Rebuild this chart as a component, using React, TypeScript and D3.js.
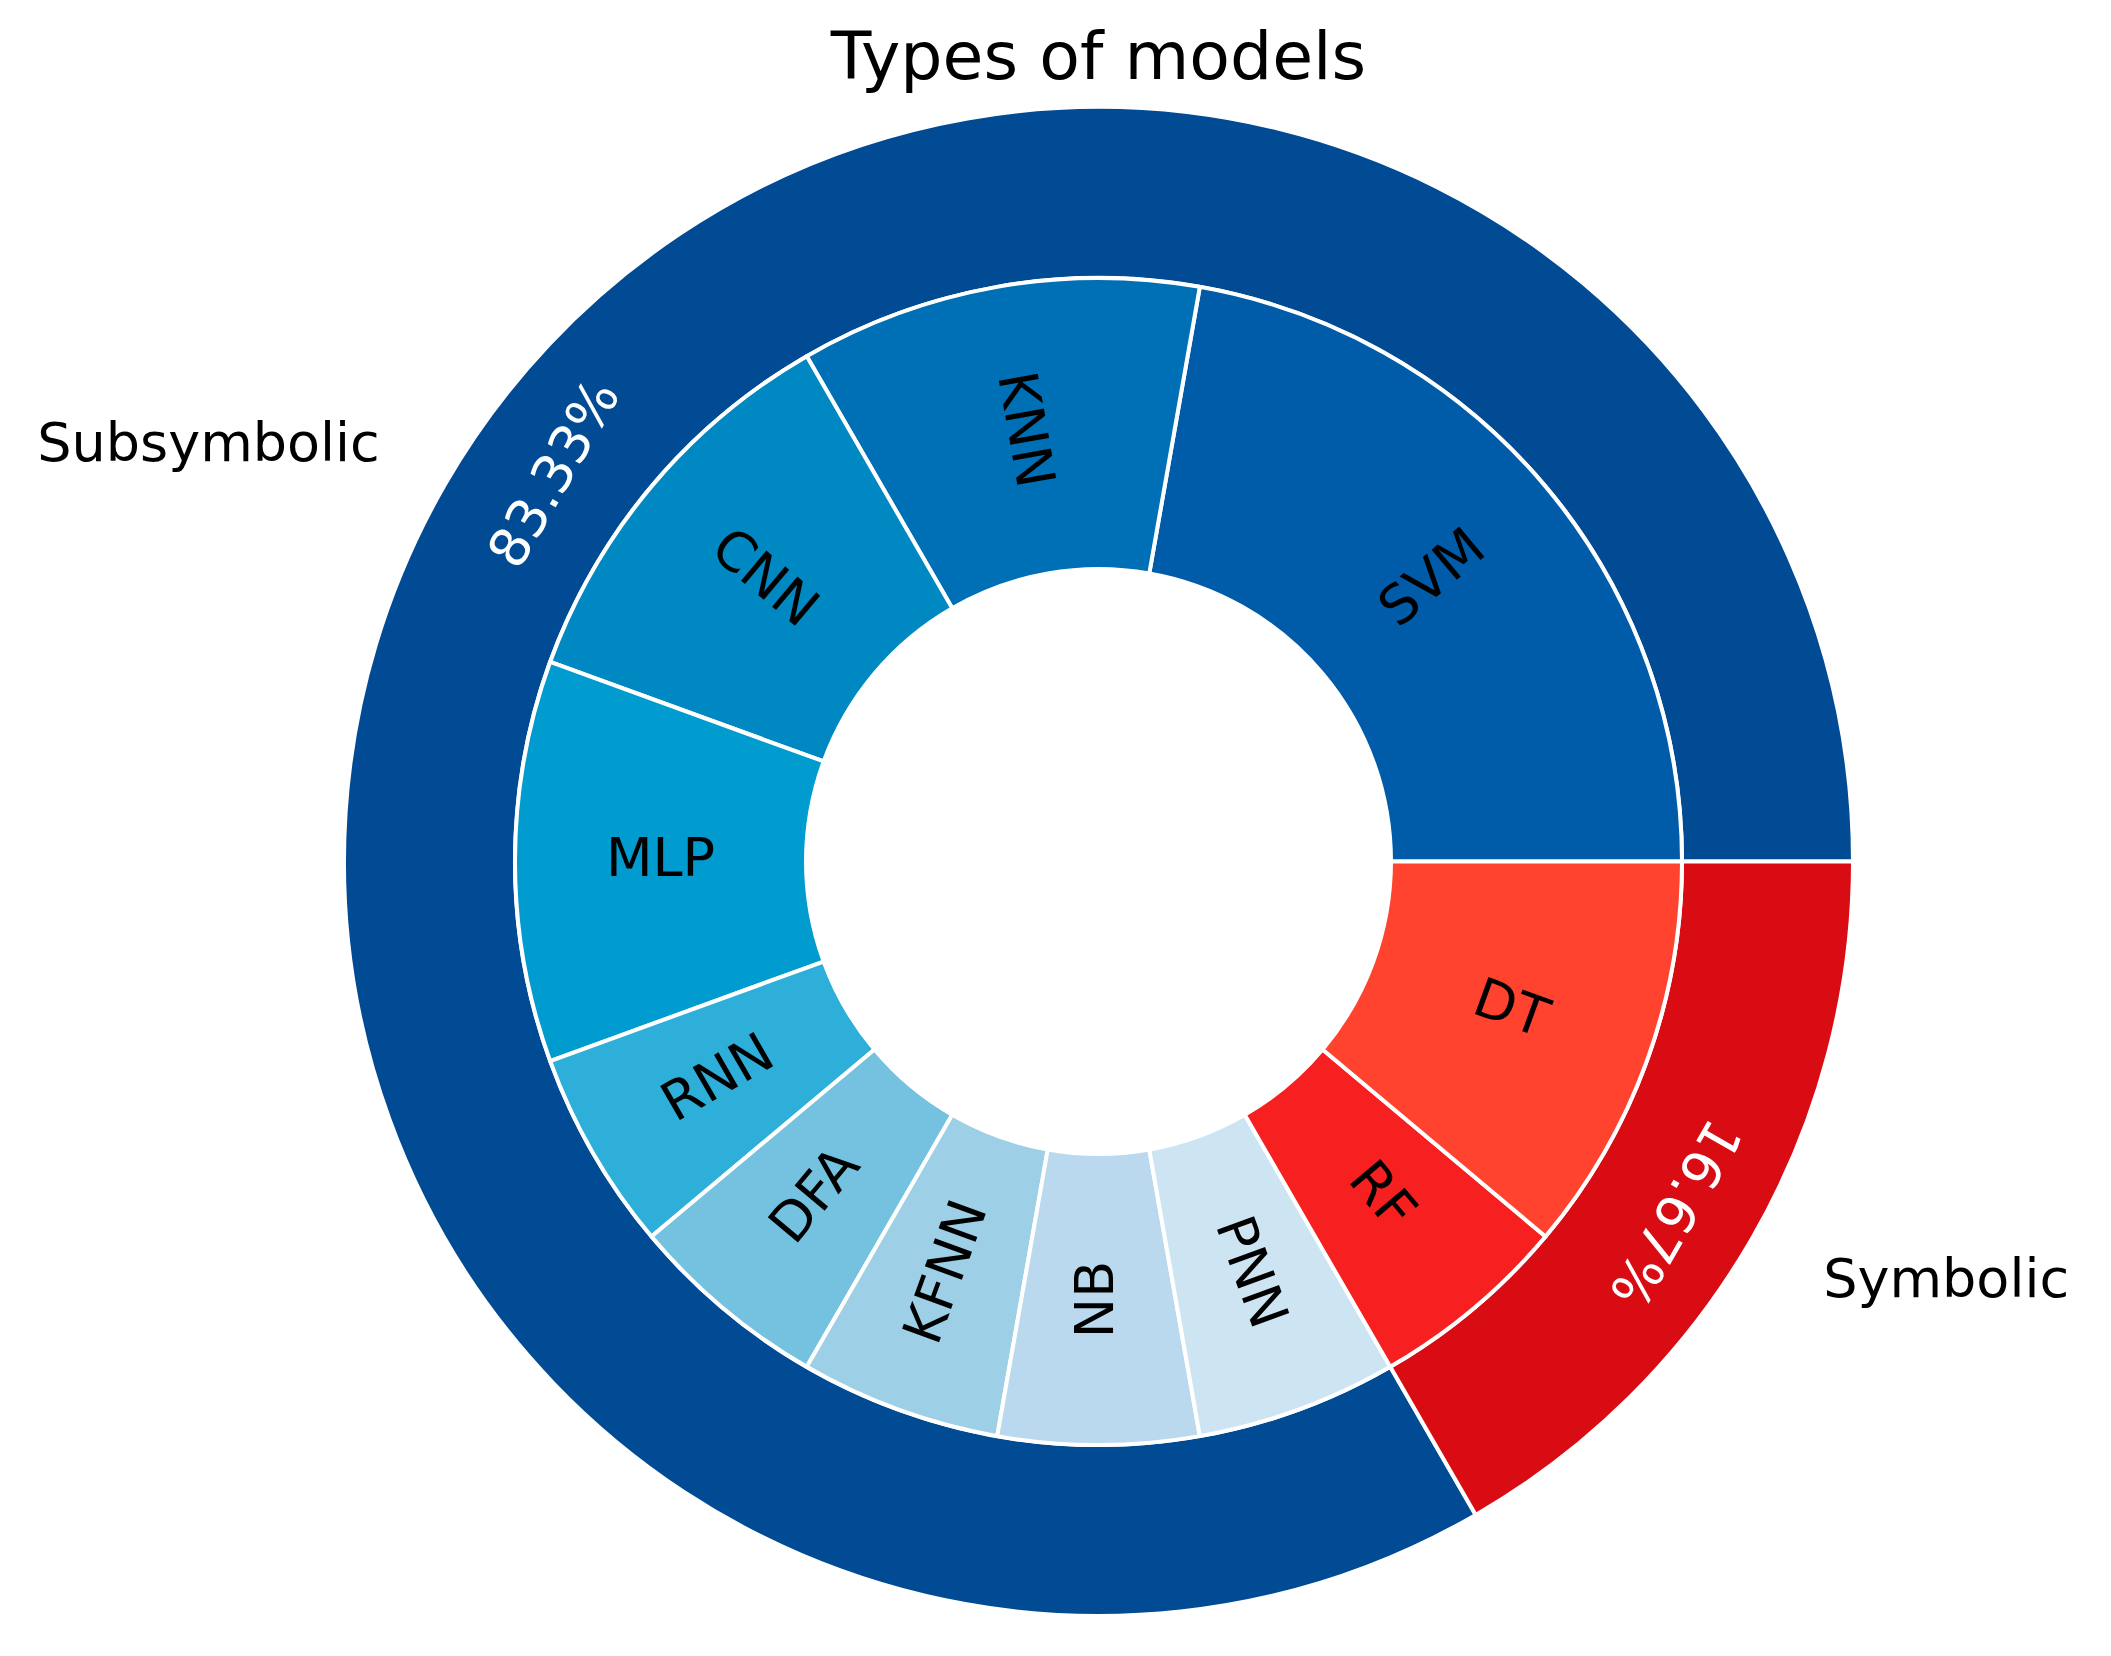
import React from "react";
import * as d3 from "d3";

const outerNames = ["Subsymbolic", "Symbolic"];
const outerValues = [15, 3];
const outerColors = ["#004b93", "#d90b13"];

const innerNames = ["SVM", "KNN", "CNN", "MLP", "RNN", "DFA", "KFNN", "NB", "PNN", "RF", "DT"];
const innerValues = [4, 2, 2, 2, 1, 1, 1, 1, 1, 1, 2];
const innerColors = [
  "#005ca9", "#0070b6", "#0088c2", "#009ccf", "#2eafd9", "#74c1e0",
  "#9dd0e6", "#bad9ee", "#cde4f3", "#f5201f", "#ff432e",
];

const W = 2111;
const H = 1656;
const CX = 1098.5;
const CY = 861.5;
const R0 = 754.5;
const R1 = 583.5;
const R2 = 292.5;
const FS = 54;
const FONT = "DejaVu Sans, sans-serif";

export default function App() {
  const pie = d3
    .pie<number>()
    .sort(null)
    .startAngle(Math.PI / 2)
    .endAngle(Math.PI / 2 - 2 * Math.PI);

  const outerArcs = pie(outerValues);
  const innerArcs = pie(innerValues);
  const outerArc = d3.arc<any>().innerRadius(R1).outerRadius(R0);
  const innerArc = d3.arc<any>().innerRadius(R2).outerRadius(R1);
  const total = d3.sum(outerValues);

  const theta = (a: any) => Math.PI / 2 - (a.startAngle + a.endAngle) / 2; // math angle (CCW from +x)

  return (
    <svg
      width={W}
      height={H}
      style={{ position: "absolute", left: 0, top: 0, background: "#fff" }}
      fontFamily={FONT}
    >
      <text x={CX} y={79} textAnchor="middle" fontSize={66.5} fill="#000">
        Types of models
      </text>
      <g transform={`translate(${CX},${CY})`}>
        {outerArcs.map((a, i) => (
          <path key={"o" + i} d={outerArc(a) as string} fill={outerColors[i]} stroke="#fff" strokeWidth={4} strokeLinejoin="round" />
        ))}
        {innerArcs.map((a, i) => (
          <path key={"i" + i} d={innerArc(a) as string} fill={innerColors[i]} stroke="#fff" strokeWidth={4} strokeLinejoin="round" />
        ))}
        {innerArcs.map((a, i) => {
          const t = theta(a);
          const r = (R1 + R2) / 2;
          const x = r * Math.cos(t);
          const y = -r * Math.sin(t);
          const deg = (t * 180) / Math.PI + (Math.cos(t) > 1e-9 ? 0 : 180);
          return (
            <text
              key={"il" + i}
              transform={`translate(${x},${y}) rotate(${-deg})`}
              textAnchor="middle"
              dy="0.27em"
              fontSize={FS}
              fill="#000"
            >
              {innerNames[i]}
            </text>
          );
        })}
        {outerArcs.map((a, i) => {
          const t = theta(a);
          const r = R0 * 1.1;
          const x = r * Math.cos(t);
          const y = -r * Math.sin(t);
          return (
            <text
              key={"ol" + i}
              x={x + (x < 0 ? 0 : 6)}
              y={y + (x < 0 ? 0 : 6)}
              dy="0.27em"
              textAnchor={x < 0 ? "end" : "start"}
              fontSize={FS}
              fill="#000"
            >
              {outerNames[i]}
            </text>
          );
        })}
        {outerArcs.map((a, i) => {
          const t0 = theta(a);
          const shift = i === 0 ? -5.5 : -1.4;
          const t = t0 + (shift * Math.PI) / 180;
          const r = i === 0 ? 665 : 672;
          const x = r * Math.cos(t);
          const y = -r * Math.sin(t);
          const deg = (t0 * 180) / Math.PI - 90;
          const pct = ((outerValues[i] / total) * 100).toFixed(2) + "%";
          return (
            <text
              key={"op" + i}
              transform={`translate(${x},${y}) rotate(${-deg})`}
              textAnchor="middle"
              dy="0.27em"
              fontSize={FS}
              fill="#fff"
            >
              {pct}
            </text>
          );
        })}
      </g>
    </svg>
  );
}
